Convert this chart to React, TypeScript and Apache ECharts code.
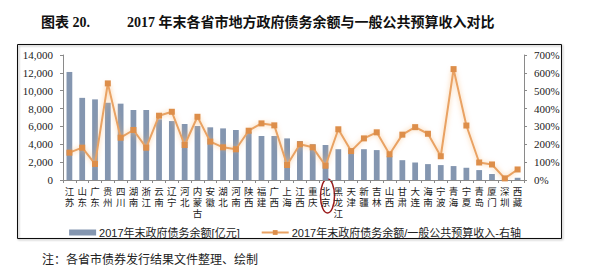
import React, { useEffect, useRef } from "react";
import * as echarts from "echarts";

const categories = [
  "江苏", "山东", "广东", "贵州", "四川", "湖南", "浙江", "云南", "辽宁", "河北",
  "内蒙古", "安徽", "湖北", "河南", "陕西", "福建", "广西", "上海", "江西", "重庆",
  "北京", "黑龙江", "天津", "新疆", "吉林", "山西", "甘肃", "大连", "海南", "宁波",
  "青海", "宁夏", "青岛", "厦门", "深圳", "西藏",
];

const debtBalance = [
  12100, 9200, 9030, 8650, 8550, 7840, 7840, 6800, 6600, 6270,
  6050, 5900, 5780, 5600, 5400, 4930, 4930, 4660, 4370, 4000,
  3920, 3450, 3400, 3450, 3350, 2650, 2220, 1960, 1780, 1670,
  1560, 1370, 1110, 670, 150, 250,
];

const debtToRevenue = [
  153, 181, 90, 541, 237, 280, 181, 360, 382, 196,
  354, 215, 183, 172, 276, 317, 306, 84, 200, 183,
  80, 284, 162, 233, 267, 144, 254, 296, 259, 133,
  621, 305, 98, 87, 9, 59,
];

const leftTicks = { min: 0, max: 14000, interval: 2000 };
const rightTicks = { min: 0, max: 700, interval: 100 };

const barName = "2017年末政府债务余额[亿元]";
const lineName = "2017年末政府债务余额/一般公共预算收入-右轴";
const titleNo = "图表 20.";
const titleText = "2017 年末各省市地方政府债务余额与一般公共预算收入对比";
const footnote = "注：各省市债券发行结果文件整理、绘制";
const circledCategory = "北京";

const serif = "'Liberation Serif', 'DejaVu Serif', 'Noto Sans CJK SC', serif";
const sans = "'Liberation Sans', 'Noto Sans CJK SC', sans-serif";

export default function App() {
  const ref = useRef<HTMLDivElement>(null);

  useEffect(() => {
    if (!ref.current) return;
    const chart = echarts.init(ref.current, undefined, { renderer: "svg" });
    const option: any = {
      animation: false,
      backgroundColor: "#ffffff",
      grid: { left: 63, right: 66, top: 55, bottom: 93, containLabel: false },
      legend: {
        left: "center",
        top: 222,
        itemWidth: 27,
        itemHeight: 6,
        itemGap: 21,
        textStyle: { fontSize: 11, color: "#222", fontFamily: sans, padding: [0, 0, 0, -2] },
        data: [
          { name: barName, icon: "rect" },
          { name: lineName },
        ],
      },
      xAxis: {
        type: "category",
        data: categories,
        axisLine: { lineStyle: { color: "#8a8a8a", width: 1 } },
        axisTick: { show: true, alignWithLabel: false, length: 3, lineStyle: { color: "#8a8a8a" } },
        axisLabel: {
          interval: 0,
          margin: 7,
          fontSize: 9.5,
          lineHeight: 10.8,
          color: "#222",
          fontFamily: serif,
          formatter: (v: string) => v.split("").join("\n"),
          verticalAlign: "top",
        },
      },
      yAxis: [
        {
          type: "value",
          ...leftTicks,
          splitLine: { show: false },
          axisLine: { show: true, lineStyle: { color: "#8a8a8a" } },
          axisTick: { show: true, length: 3, lineStyle: { color: "#8a8a8a" } },
          axisLabel: {
            margin: 10,
            fontSize: 11,
            color: "#222",
            fontFamily: serif,
            formatter: (v: number) => v.toLocaleString("en-US"),
          },
        },
        {
          type: "value",
          ...rightTicks,
          position: "right",
          splitLine: { show: false },
          axisLine: { show: true, lineStyle: { color: "#8a8a8a" } },
          axisTick: { show: true, length: 3, lineStyle: { color: "#8a8a8a" } },
          axisLabel: {
            margin: 10,
            fontSize: 11,
            color: "#222",
            fontFamily: serif,
            formatter: "{value}%",
          },
        },
      ],
      series: [
        {
          name: barName,
          type: "bar",
          data: debtBalance,
          barWidth: "45%",
          itemStyle: { color: "#8496b0" },
        },
        {
          name: lineName,
          type: "line",
          yAxisIndex: 1,
          data: debtToRevenue,
          symbol: "rect",
          symbolSize: 6,
          lineStyle: {
            color: "#e9a263",
            width: 2,
            shadowBlur: 5,
            shadowColor: "rgba(248,190,130,0.9)",
          },
          itemStyle: { color: "#dd8e4a" },
        },
      ],
      graphic: [
        {
          id: "frame",
          type: "rect",
          shape: { x: 17.5, y: 44.5, width: 544, height: 194 },
          style: {
            fill: "none",
            stroke: "#111",
            lineWidth: 1,
            shadowBlur: 2,
            shadowOffsetX: 1,
            shadowOffsetY: 1,
            shadowColor: "rgba(0,0,0,0.35)",
          },
          silent: true,
          z: -1,
        },
        {
          id: "titleNo",
          type: "text",
          x: 41,
          y: 22,
          style: {
            text: titleNo,
            fontSize: 14,
            fontWeight: "bold",
            fontFamily: serif,
            fill: "#111",
            verticalAlign: "middle",
          },
        },
        {
          id: "titleText",
          type: "text",
          x: 127,
          y: 22,
          style: {
            text: titleText,
            fontSize: 14,
            fontWeight: "bold",
            fontFamily: serif,
            fill: "#111",
            verticalAlign: "middle",
          },
        },
        {
          id: "footnote",
          type: "text",
          x: 42,
          y: 260,
          style: {
            text: footnote,
            fontSize: 12,
            fontFamily: serif,
            fill: "#222",
            verticalAlign: "middle",
          },
        },
      ],
    };
    chart.setOption(option);
    const px = chart.convertToPixel({ xAxisIndex: 0 }, circledCategory) as number;
    if (typeof px === "number" && !isNaN(px)) {
      chart.setOption({
        graphic: [
          {
            id: "circle",
            type: "ellipse",
            shape: { cx: px + 2, cy: 196, rx: 7, ry: 17 },
            style: { fill: "none", stroke: "#9b1c1c", lineWidth: 1.5 },
            silent: true,
          },
        ],
      });
    }
    return () => chart.dispose();
  }, []);

  return (
    <div
      ref={ref}
      style={{ position: "fixed", left: 0, top: 0, width: 590, height: 273, background: "#fff" }}
    />
  );
}
